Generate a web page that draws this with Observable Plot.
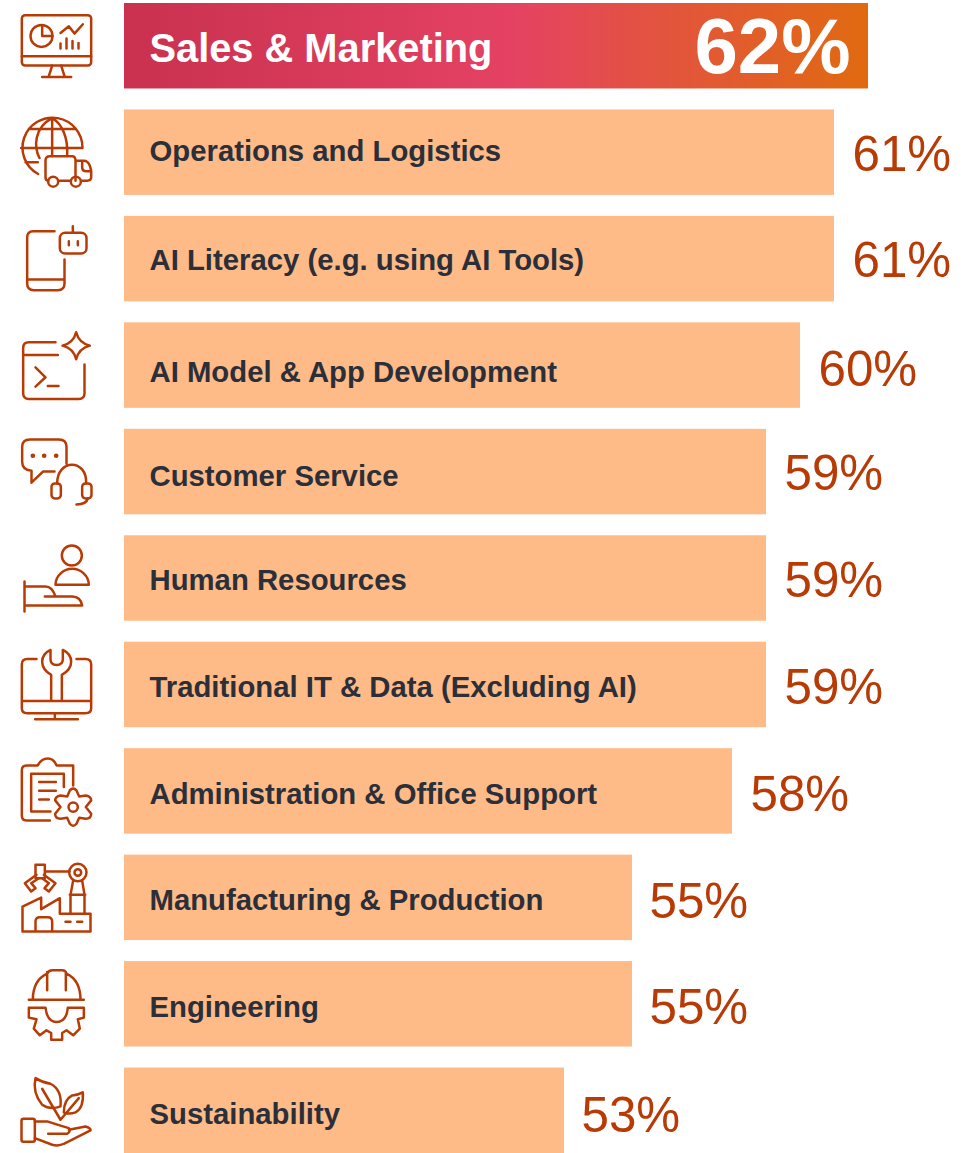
<!DOCTYPE html>
<html><head><meta charset="utf-8">
<script src="https://cdn.jsdelivr.net/npm/d3@7"></script>
<script src="https://cdn.jsdelivr.net/npm/@observablehq/plot@0.6"></script>
<style>html,body{margin:0;padding:0;background:#fff}svg{display:block}</style>
</head><body><div id="chart"></div>
<script>
const categories = ["Sales & Marketing","Operations and Logistics","AI Literacy (e.g. using AI Tools)","AI Model & App Development","Customer Service","Human Resources","Traditional IT & Data (Excluding AI)","Administration & Office Support","Manufacturing & Production","Engineering","Sustainability"];
const shares = [62,61,61,60,59,59,59,58,55.06,55.06,53.06];
const iconCentres = [138,456,777,165,486,804,165,483,804,192,513];
const iconArt = [
`<rect x="64" y="45" width="208" height="151" rx="10"/><path d="M64 168H272M155 196L145 228M182 196L192 228M125 230H212M125 76V107H156M180 98L205 78L222 100L247 72M180 130V145M198 115V145M216 122V145M234 128V145"/><circle cx="123" cy="107" r="33"/>`,
`<path d="M113 520A90 90 0 1 1 246 442M62 442H246M85 385H225M75 485H112M155 352V465M155 352C100 380 100 440 117 472M155 352C185 370 203 410 200 465M143 540Q135 540 135 530V480Q135 467 148 467H215Q225 467 225 480V540M173 540H210M225 480H250Q262 480 268 495L272 510V530Q272 540 260 540H242M245 482V500Q245 512 258 512H272"/><circle cx="158" cy="543" r="15"/><circle cx="226" cy="543" r="15"/>`,
`<path d="M162 693H98Q80 693 80 712V850Q80 870 100 870H172Q192 870 192 850V778M80 838H192M217 678V698M205 723V735M232 723V735"/><rect x="178" y="698" width="80" height="62" rx="16"/>`,
`<path d="M165 95H85Q68 95 68 112V248Q68 265 85 265H235Q252 265 252 248V162M68 133H172M105 170L135 200L105 228M142 226H174M227 65Q235 97 268 105Q235 113 227 146Q219 113 186 105Q219 97 227 65Z"/>`,
`<path d="M198 460V410Q198 388 175 388H88Q65 388 65 410V455Q65 480 93 482V518L128 484H162M170 520C170 445 260 445 257 520M262 565Q258 583 228 583"/><rect x="153" y="520" width="28" height="45" rx="10"/><rect x="245" y="520" width="28" height="45" rx="10"/><path d="M97 437h.1M131 437h.1M167 437h.1" stroke-width="14"/>`,
`<circle cx="214" cy="735" r="30"/><path d="M165 823C165 795 190 775 215 775C240 775 265 795 265 823ZM72 813V903M72 828H135Q155 828 165 858M133 858H215Q240 858 245 885H72"/>`,
`<path d="M108 87H80Q64 87 64 103V235Q64 250 80 250H255Q272 250 272 235V103Q272 87 255 87H228M64 213H272M163 250V268M104 268H232M152 213V135Q125 120 125 95Q125 72 150 60V88Q150 105 168 105Q187 105 187 88V60Q212 72 212 95Q212 120 184 135V213"/>`,
`<path d="M218 465V405H168Q160 384 142 384Q122 384 112 405H78Q64 405 64 420V555Q64 570 78 570H148M190 470V430H92V543H150M116 455H166M116 481H166M116 507H145M208 480Q218 468 228 480L236 498L256 495Q272 498 272 510L256 530L272 550Q272 565 256 565L236 562L228 580Q218 592 208 580L200 562L180 565Q164 565 164 550L180 530L164 510Q164 498 180 495L200 498Z"/><circle cx="218" cy="530" r="14"/>`,
`<path d="M66 905V830L122 803V838L178 805V852H270V905ZM105 905V875Q105 862 118 862H142Q155 862 155 875V905M195 876H210M230 876H245M210 852V795L218 752M252 852V795L245 752M208 795H254M135 725H207M108 735L73 760L92 785L105 775L92 760L115 745M130 735L165 760L145 785L132 775L145 760L125 745"/><circle cx="232" cy="728" r="26"/><circle cx="232" cy="728" r="10"/><rect x="105" y="705" width="28" height="40"/>`,
`<path d="M85 178H250M97 178Q97 120 140 100Q145 90 155 90H185Q195 90 198 100Q240 120 240 178M140 95V150M196 95V150M85 202H135Q140 245 168 245Q198 245 202 202H250V232L232 237L238 265L218 285L198 270L185 278V298H152V278L138 270L118 285L100 265L108 237L85 232Z"/>`,
`<path d="M105 415Q95 460 125 495Q150 512 180 500Q185 450 150 432Q125 428 105 415ZM125 447L180 540M247 458Q250 505 225 518Q205 525 190 518Q190 480 215 467Q235 465 247 458ZM235 475L180 540M103 545H140Q170 555 205 565Q212 575 200 582H143M205 570L255 560Q272 565 270 572L190 612Q175 620 155 615L103 595"/><rect x="63" y="537" width="40" height="69" rx="6"/>`
];
const iconSrc = (art, c) => "data:image/svg+xml," + encodeURIComponent(`<svg xmlns="http://www.w3.org/2000/svg" viewBox="0 ${c-120} 300 240" width="100" height="80"><g fill="none" stroke="#B83B06" stroke-width="7.5" stroke-linecap="round" stroke-linejoin="round">${art}</g></svg>`);

const rows = categories.map((name,i)=>({name,share:shares[i],pct:Math.round(shares[i])+"%",src:iconSrc(iconArt[i],iconCentres[i])}));
const lead = rows.slice(0,1), rest = rows.slice(1);
const base = 40.12;
const labelNudge = [3,-1,1,7,5,2,3,3,3,3,4];
const pctNudge = [2,3,2,5,2,3,3,4,4,4,5];

const defs = () => {
  const s = d3.create("svg:defs");
  const g = s.append("linearGradient").attr("id","lead");
  [[0,"#C9314F"],[.52,"#E54263"],[.68,"#E35045"],[1,"#E06A10"]].forEach(([o,c])=>g.append("stop").attr("offset",o).attr("stop-color",c));
  return s.node();
};

const chart = Plot.plot({
  width:975,height:1153,margin:0,
  style:{fontFamily:"'Liberation Sans',Arial,sans-serif",background:"#fff"},
  x:{axis:null,domain:[base,62],range:[124,868]},
  y:{axis:null,type:"band",domain:categories,range:[3,1153],paddingInner:.197,paddingOuter:0,round:false},
  marks:[
    defs,
    Plot.barX(rest,{x1:()=>base,x2:"share",y:"name",fill:"#FFBB87"}),
    Plot.barX(lead,{x1:()=>base,x2:"share",y:"name",fill:"url(#lead)"}),
    Plot.image(rows,{y:"name",src:"src",frameAnchor:"left",dx:50,width:100,height:80}),
    ...rest.map((r,i)=>Plot.text([r],{x:()=>base,y:"name",text:"name",textAnchor:"start",dx:25,dy:labelNudge[i+1],fill:"#2B2F3A",fontWeight:"bold",fontSize:29.3})),
    Plot.text(lead,{x:()=>base,y:"name",text:"name",textAnchor:"start",dx:25,dy:labelNudge[0],fill:"#fff",fontWeight:"bold",fontSize:39.8}),
    ...rest.map((r,i)=>Plot.text([r],{x:"share",y:"name",text:"pct",textAnchor:"start",dx:i>=7?17:18,dy:pctNudge[i+1],fill:"#B83B06",fontSize:49.3})),
    Plot.text(lead,{x:"share",y:"name",text:"pct",textAnchor:"end",dx:-18,dy:pctNudge[0],fill:"#fff",fontWeight:"bold",fontSize:78})
  ]
});
document.getElementById("chart").append(chart);
</script></body></html>
